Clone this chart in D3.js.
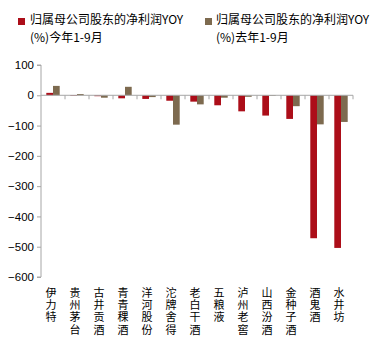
<!DOCTYPE html>
<html><head><meta charset="utf-8">
<script src="https://cdn.jsdelivr.net/npm/d3@7"></script>
<style>body{margin:0;background:#fff;}svg{display:block;}</style>
</head><body>
<script>
const categories = ["伊力特","贵州茅台","古井贡酒","青青稞酒","洋河股份","沱牌舍得","老白干酒","五粮液","泸州老窖","山西汾酒","金种子酒","酒鬼酒","水井坊"];
const seriesNames = ["归属母公司股东的净利润YOY(%)今年1-9月","归属母公司股东的净利润YOY(%)去年1-9月"];
const thisYear = [8, -2, -3, -10, -12, -18, -21, -33, -53, -67, -78, -472, -504];
const lastYear = [31, 4, -8, 28, -6, -97, -30, -8, -5, -2, -36, -96, -88];
const yTicks = [100, 0, -100, -200, -300, -400, -500, -600];
const colors = ["#AC0E19", "#7D6A4F"];

const W = 387, H = 353;
const svg = d3.select("body").append("svg").attr("width", W).attr("height", H);
const font = "'Noto Sans CJK SC', 'Liberation Sans', Arial, sans-serif";

const x = d3.scaleBand().domain(categories).range([41, 353]).paddingInner(0).paddingOuter(0);
const y = d3.scaleLinear().domain([-600, 100]).range([277, 65]);
const bw = 6.7;

// y axis
const gy = svg.append("g").attr("transform", "translate(41,0)")
  .call(d3.axisLeft(y).tickValues(yTicks).tickSize(4).tickPadding(3).tickFormat(d3.format("d")));
gy.select(".domain").attr("stroke", "#a6a6a6").attr("d", `M-4,${y(100)}H0V${y(-600)}H-4`);
gy.selectAll(".tick line").attr("stroke", "#a6a6a6");
gy.selectAll(".tick text").attr("font-family", "'Liberation Sans', Arial, sans-serif").attr("font-size", 11.5).attr("fill", "#000");

// bars
const data = categories.map((c, i) => ({c, a: thisYear[i], b: lastYear[i]}));
const cx = d => x(d.c) + x.bandwidth() / 2;
svg.append("g").selectAll("rect").data(data).join("rect")
  .attr("x", d => cx(d) - bw).attr("width", bw)
  .attr("y", d => y(Math.max(0, d.a))).attr("height", d => Math.abs(y(d.a) - y(0)))
  .attr("fill", colors[0]);
svg.append("g").selectAll("rect").data(data).join("rect")
  .attr("x", d => cx(d)).attr("width", bw)
  .attr("y", d => y(Math.max(0, d.b))).attr("height", d => Math.abs(y(d.b) - y(0)))
  .attr("fill", colors[1]);

// zero axis with ticks at category boundaries
const gx = svg.append("g");
gx.append("line").attr("x1", 41).attr("x2", 353).attr("y1", y(0)).attr("y2", y(0)).attr("stroke", "#a6a6a6");
const bounds = categories.map(c => x(c) + x.bandwidth());
gx.selectAll("line.t").data(bounds).join("line").attr("class", "t")
  .attr("x1", d => d).attr("x2", d => d).attr("y1", y(0)).attr("y2", y(0) + 4).attr("stroke", "#a6a6a6");

// x labels (vertical writing)
svg.append("g").selectAll("text").data(data).join("text")
  .attr("x", d => cx(d) - 2).attr("y", 287)
  .attr("writing-mode", "vertical-rl")
  .attr("font-family", font).attr("font-size", 11).attr("fill", "#000")
  .style("letter-spacing", "1.3px")
  .text(d => d.c);

// legend
const leg = [
  {x: 18, tx: 30, lines: ["归属母公司股东的净利润YOY", "(%)今年1-9月"], c: colors[0]},
  {x: 205, tx: 216, lines: ["归属母公司股东的净利润YOY", "(%)去年1-9月"], c: colors[1]}
];
leg.forEach(l => {
  svg.append("rect").attr("x", l.x).attr("y", 18).attr("width", 7).attr("height", 7).attr("fill", l.c);
  svg.append("text").attr("font-family", font).attr("font-size", 12).attr("fill", "#000")
    .selectAll("tspan").data(l.lines).join("tspan")
    .attr("x", l.tx).attr("y", (s, k) => 24 + k * 18).text(s => s);
});
</script>
</body></html>
